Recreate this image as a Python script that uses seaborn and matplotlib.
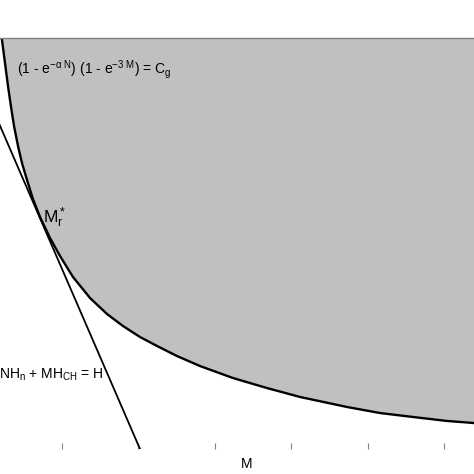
import numpy as np
import pandas as pd
import matplotlib
matplotlib.use("Agg")
import matplotlib.pyplot as plt
import seaborn as sns

# boundary curve (1 - e^{-aN})(1 - e^{-3M}) = Cg
curve_m = [0.211, 0.254, 0.293, 0.333, 0.372, 0.424, 0.476, 0.542, 0.620, 0.712,
           0.843, 0.974, 1.144, 1.367, 1.589, 1.798, 2.021, 2.244, 2.505, 2.806,
           3.238, 3.683, 4.115, 4.730, 5.162, 5.594, 6.039, 6.393, 7.000]
curve_n = [5.380, 5.052, 4.751, 4.476, 4.228, 3.966, 3.744, 3.521, 3.272, 3.037,
           2.762, 2.526, 2.251, 1.976, 1.767, 1.610, 1.466, 1.348, 1.217, 1.086,
           0.929, 0.798, 0.681, 0.550, 0.471, 0.419, 0.367, 0.340, 0.288]

# budget line N*Hn + M*HCH = H
budget_m = [0.0, 2.021]
budget_n = [4.666, 0.0]

x_ticks = [1, 2, 3, 4, 5, 6]
x_lim = (0, 7)
y_lim = (0, 5.386)

sns.set_theme(style="white")
plt.rcParams["font.family"] = ["Liberation Sans", "DejaVu Sans"]
plt.rcParams["text.color"] = "black"
plt.rcParams["mathtext.fontset"] = "custom"
plt.rcParams["mathtext.rm"] = "Liberation Sans"
plt.rcParams["mathtext.it"] = "Liberation Sans"
plt.rcParams["mathtext.bf"] = "Liberation Sans:bold"

fig = plt.figure(figsize=(4.74, 4.74), dpi=100)
# axes run past the left and right edges of the picture (cropped figure)
ax = fig.add_axes([-14.4 / 474, 25 / 474, 534.8 / 474, 411.5 / 474])

curve = pd.DataFrame({"M": curve_m, "N": curve_n})
budget = pd.DataFrame({"M": budget_m, "N": budget_n})

ax.fill_between(curve["M"], curve["N"], y_lim[1] + 1, color="#c0c0c0", lw=0)
sns.lineplot(data=curve, x="M", y="N", ax=ax, color="black", lw=1.7,
             sort=False, estimator=None)
sns.lineplot(data=budget, x="M", y="N", ax=ax, color="black", lw=1.3,
             sort=False, estimator=None)

ax.set_xlim(*x_lim)
ax.set_ylim(*y_lim)
ax.set_xticks(x_ticks)
ax.set_xticklabels([])
ax.set_yticks([])
ax.set_xlabel("")
ax.set_ylabel("")
ax.tick_params(axis="x", which="both", direction="in", length=4, width=0.8,
               color="#808080", top=True, bottom=True)
ax.spines["top"].set_color("#808080")
ax.spines["top"].set_linewidth(1.0)
ax.spines["bottom"].set_visible(False)
ax.spines["left"].set_visible(False)
ax.spines["right"].set_visible(False)

fig.text(17 / 474, 1 - 70 / 474, r"(1 - e$^{-\alpha\ N}$) (1 - e$^{-3\ M}$) = C$_g$",
         fontsize=10, va="center", ha="left")
fig.text(43 / 474, 1 - 218 / 474, r"M$_r^*$", fontsize=12.5, va="center", ha="left")
fig.text(-1 / 474, 1 - 375 / 474, r"NH$_n$ + MH$_{CH}$ = H", fontsize=10,
         va="center", ha="left")
fig.text(247 / 474, 1 - 464 / 474, "M", fontsize=10, va="center", ha="center")

fig.savefig("out.png", dpi=100)
